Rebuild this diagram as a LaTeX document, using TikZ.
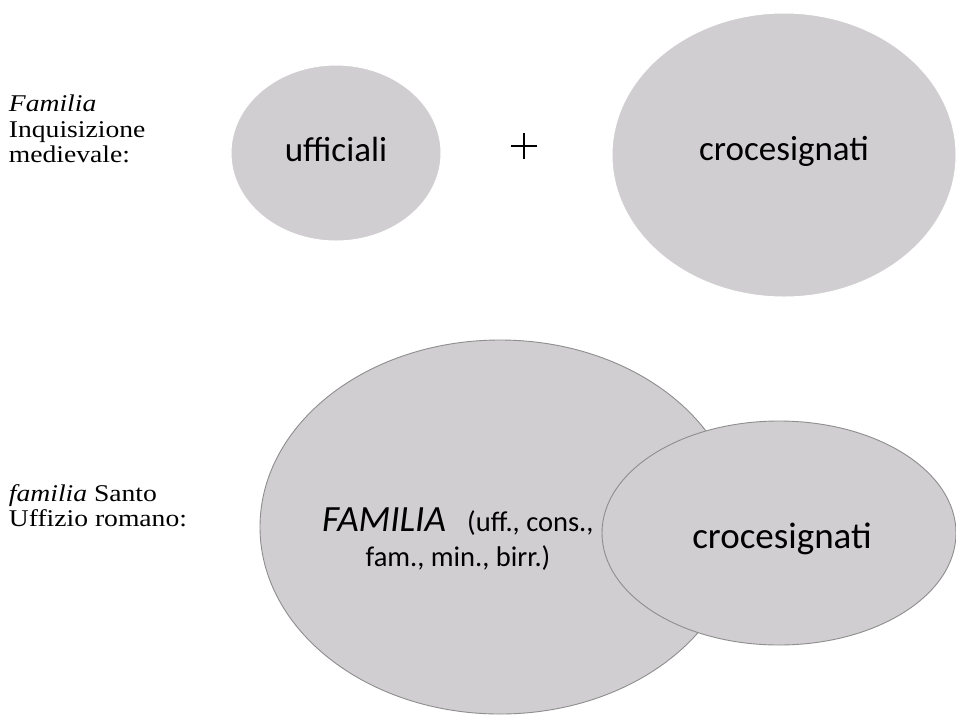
\documentclass[tikz,border=0pt]{standalone}
\usepackage{fontspec}
\setmainfont{Liberation Serif}
\newfontfamily\calib{Carlito}
\usetikzlibrary{shapes.geometric}
\definecolor{ellfill}{HTML}{D0CED0}
\definecolor{ellline}{HTML}{8E8E8E}
\tikzset{
  blob/.style={ellipse, fill=ellfill, inner sep=0pt},
  blobw/.style={blob, draw=white, line width=1pt},
  blobg/.style={blob, draw=ellline, line width=0.9pt},
  lbl/.style={font=\fontsize{24}{25.5}\selectfont, align=left, anchor=north west, inner sep=0pt, xscale=1.15, transform shape},
  intxt/.style={font=\calib\fontsize{35}{40}\selectfont, inner sep=0pt}
}
\begin{document}
\begin{tikzpicture}[x=1pt,y=-1pt]
\path[use as bounding box, fill=white] (0,0) rectangle (956,716);
% top row
\node[blobw, minimum width=210, minimum height=176] (uff) at (336,153) {};
\node[blobw, minimum width=344, minimum height=284] (cro1) at (784,155) {};
\node[intxt] (tuff) at ([yshift=4]uff.center) {ufficiali};
\node[intxt] (tcro1) at ([yshift=4]cro1.center) {crocesignati};
\draw[line width=1.3pt] (511,146) -- (537,146);
\draw[line width=1.3pt] (524,133) -- (524,159);
\node[lbl] (l1) at (8.7,95) {\textit{Familia}\\Inquisizione\\medievale:};
% bottom row
\node[blobg, minimum width=480, minimum height=374] (fam) at (500,527) {};
\node[blobg, minimum width=354, minimum height=224] (cro2) at (779,533) {};
\node[font=\calib\fontsize{37}{42}\selectfont, inner sep=0pt] (tcro2) at ([xshift=3,yshift=-6]cro2.center) {crocesignati};
\node[font=\calib\fontsize{37}{42}\selectfont\itshape, inner sep=0pt, anchor=base west] (tfam) at (322,531) {FAMILIA};
\node[font=\calib\fontsize{28.5}{32}\selectfont, inner sep=0pt, anchor=base west] (tp1) at (467,531) {(uff., cons.,};
\node[font=\calib\fontsize{28.5}{32}\selectfont, inner sep=0pt, anchor=base] (tp2) at (458,566) {fam., min., birr.)};
\node[lbl] (l2) at (8.7,484) {\textit{familia} Santo\\Uffizio romano:};
\end{tikzpicture}
\end{document}
